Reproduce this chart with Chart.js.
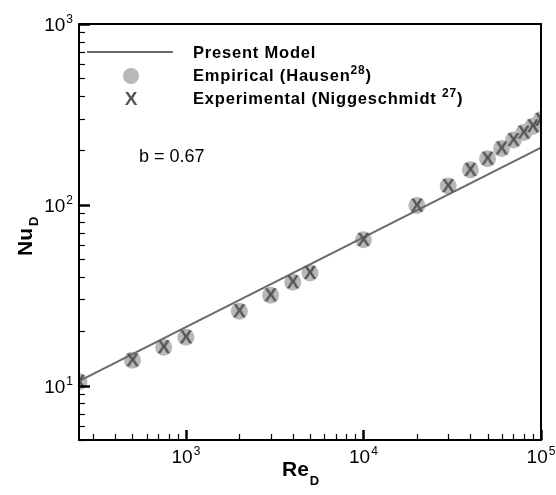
<!DOCTYPE html>
<html>
<head>
<meta charset="utf-8">
<script src="https://cdn.jsdelivr.net/npm/chart.js@4.4.0/dist/chart.umd.min.js"></script>
<style>
html, body { margin: 0; background: #fff; }
#wrap { width: 556px; height: 495px; }
</style>
</head>
<body>
<div id="wrap"><canvas id="c"></canvas></div>
<script>
// Re_D values of the data points
const reynolds = [250, 500, 750, 1000, 2000, 3000, 4000, 5000, 10000, 20000, 30000, 40000, 50000, 60000, 70000, 80000, 90000, 100000];
// Nu_D, empirical (Hausen)
const nuHausen = [10.5, 13.8, 16.3, 18.5, 25.8, 31.6, 37.3, 42, 64, 99, 127, 156, 180, 205, 228, 251, 272, 295];
// Nu_D, experimental (Niggeschmidt)
const nuNigge = [10.5, 13.8, 16.3, 18.5, 25.8, 31.6, 37.3, 42, 64, 99, 127, 156, 180, 205, 228, 251, 272, 295];
// present model line
const modelRe = [250, 100000];
const modelNu = [10.6, 207];
// decade ticks: value -> exponent shown
const xDecades = [1000, 10000, 100000];
const yDecades = [10, 100, 1000];

const FONT = '"Liberation Sans", Arial, Helvetica, sans-serif';

// "X" marker drawn as a little bitmap
const xMark = document.createElement('canvas');
xMark.width = 20; xMark.height = 20;
{
  const g = xMark.getContext('2d');
  g.fillStyle = '#555';
  g.font = 'bold 19px ' + FONT;
  g.textAlign = 'center';
  g.textBaseline = 'middle';
  g.fillText('X', 10, 11);
}

const toPts = (xs, ys) => xs.map((x, i) => ({ x: x, y: ys[i] }));

// "10" with a small raised exponent; returns total width
function powLabel(c, exp, x, y, align) {
  c.font = '19px ' + FONT;
  const w1 = c.measureText('10').width;
  c.font = '12px ' + FONT;
  const w2 = c.measureText(exp).width;
  const w = w1 + w2 + 1;
  let x0 = x;
  if (align === 'center') x0 = x - w / 2;
  if (align === 'right') x0 = x - w;
  c.font = '19px ' + FONT;
  c.fillText('10', x0, y);
  c.font = '12px ' + FONT;
  c.fillText(exp, x0 + w1 + 1, y - 8);
}

const decor = {
  id: 'decor',
  afterDraw(chart) {
    const c = chart.ctx;
    const a = chart.chartArea;
    const xs = chart.scales.x, ys = chart.scales.y;
    c.save();
    // inward tick marks
    c.strokeStyle = '#000';
    for (let e = 2; e <= 5; e++) {
      for (let m = 1; m <= 9; m++) {
        const v = m * Math.pow(10, e);
        if (v < xs.min || v > xs.max) continue;
        const px = Math.round(xs.getPixelForValue(v)) + 0.5;
        const len = m === 1 ? 10 : 6;
        c.lineWidth = m === 1 ? 2.5 : 1.2;
        c.beginPath(); c.moveTo(px, a.bottom); c.lineTo(px, a.bottom - len); c.stroke();
      }
    }
    for (let e = 0; e <= 3; e++) {
      for (let m = 1; m <= 9; m++) {
        const v = m * Math.pow(10, e);
        if (v < ys.min || v > ys.max) continue;
        const py = Math.round(ys.getPixelForValue(v)) + 0.5;
        const len = m === 1 ? 11 : 6;
        c.lineWidth = m === 1 ? 2.5 : 1.2;
        c.beginPath(); c.moveTo(a.left, py); c.lineTo(a.left + len, py); c.stroke();
      }
    }
    // frame
    c.lineWidth = 2;
    c.strokeRect(a.left, a.top, a.right - a.left, a.bottom - a.top);

    // tick labels
    c.fillStyle = '#000';
    c.textBaseline = 'alphabetic';
    c.textAlign = 'left';
    xDecades.forEach(v => {
      powLabel(c, String(Math.round(Math.log10(v))), xs.getPixelForValue(v), 463, 'center');
    });
    yDecades.forEach(v => {
      powLabel(c, String(Math.round(Math.log10(v))), a.left - 6, ys.getPixelForValue(v) + 7, 'right');
    });

    // axis titles
    c.font = 'bold 21px ' + FONT;
    const reW = c.measureText('Re').width;
    const rx = 282;
    c.fillText('Re', rx, 476);
    c.font = 'bold 13px ' + FONT;
    c.fillText('D', rx + reW + 1, 485);

    c.save();
    c.translate(32, 256);
    c.rotate(-Math.PI / 2);
    c.font = 'bold 21px ' + FONT;
    const nuW = c.measureText('Nu').width;
    c.fillText('Nu', 0, 0);
    c.font = 'bold 13px ' + FONT;
    c.fillText('D', nuW + 2, 6);
    c.restore();

    // legend
    c.strokeStyle = '#6a6a6a';
    c.lineWidth = 2;
    c.beginPath(); c.moveTo(87, 52); c.lineTo(173, 52); c.stroke();
    c.fillStyle = '#b8b8b8';
    c.beginPath(); c.arc(131, 76, 8, 0, Math.PI * 2); c.fill();
    c.drawImage(xMark, 121, 89);

    c.fillStyle = '#000';
    c.letterSpacing = '0.8px';
    const lx = 193;
    const line = (y, main, sup, tail) => {
      c.font = 'bold 16.5px ' + FONT;
      c.fillText(main, lx, y);
      let w = c.measureText(main).width;
      if (sup) {
        c.font = 'bold 12px ' + FONT;
        c.fillText(sup, lx + w, y - 7);
        w += c.measureText(sup).width;
        c.font = 'bold 16.5px ' + FONT;
        c.fillText(tail, lx + w, y);
      }
    };
    line(58, 'Present Model');
    line(81, 'Empirical (Hausen', '28', ')');
    line(104, 'Experimental (Niggeschmidt ', '27', ')');
    c.letterSpacing = '0px';

    c.font = '18px ' + FONT;
    c.fillText('b = 0.67', 139, 162);
    c.restore();
  }
};

new Chart(document.getElementById('c'), {
  type: 'scatter',
  data: {
    datasets: [
      {
        label: 'Experimental (Niggeschmidt 27)',
        data: toPts(reynolds, nuNigge),
        pointStyle: xMark,
        pointRadius: 8,
        order: 0
      },
      {
        type: 'line',
        label: 'Present Model',
        data: toPts(modelRe, modelNu),
        borderColor: '#6a6a6a',
        borderWidth: 2,
        pointRadius: 0,
        fill: false,
        order: 1
      },
      {
        label: 'Empirical (Hausen 28)',
        data: toPts(reynolds, nuHausen),
        pointStyle: 'circle',
        pointRadius: 8.5,
        backgroundColor: '#b8b8b8',
        borderWidth: 0,
        order: 2
      }
    ]
  },
  options: {
    animation: false,
    responsive: true,
    maintainAspectRatio: false,
    events: [],
    layout: { padding: { top: 24, right: 15, left: 0, bottom: 0 } },
    plugins: { legend: { display: false }, tooltip: { enabled: false } },
    scales: {
      x: {
        type: 'logarithmic',
        min: 250,
        max: 100000,
        grid: { display: false },
        border: { display: false },
        ticks: { display: false },
        afterFit: s => { s.height = 55; }
      },
      y: {
        type: 'logarithmic',
        min: 5,
        max: 1000,
        grid: { display: false },
        border: { display: false },
        ticks: { display: false },
        afterFit: s => { s.width = 79; }
      }
    }
  },
  plugins: [decor]
});
</script>
</body>
</html>
